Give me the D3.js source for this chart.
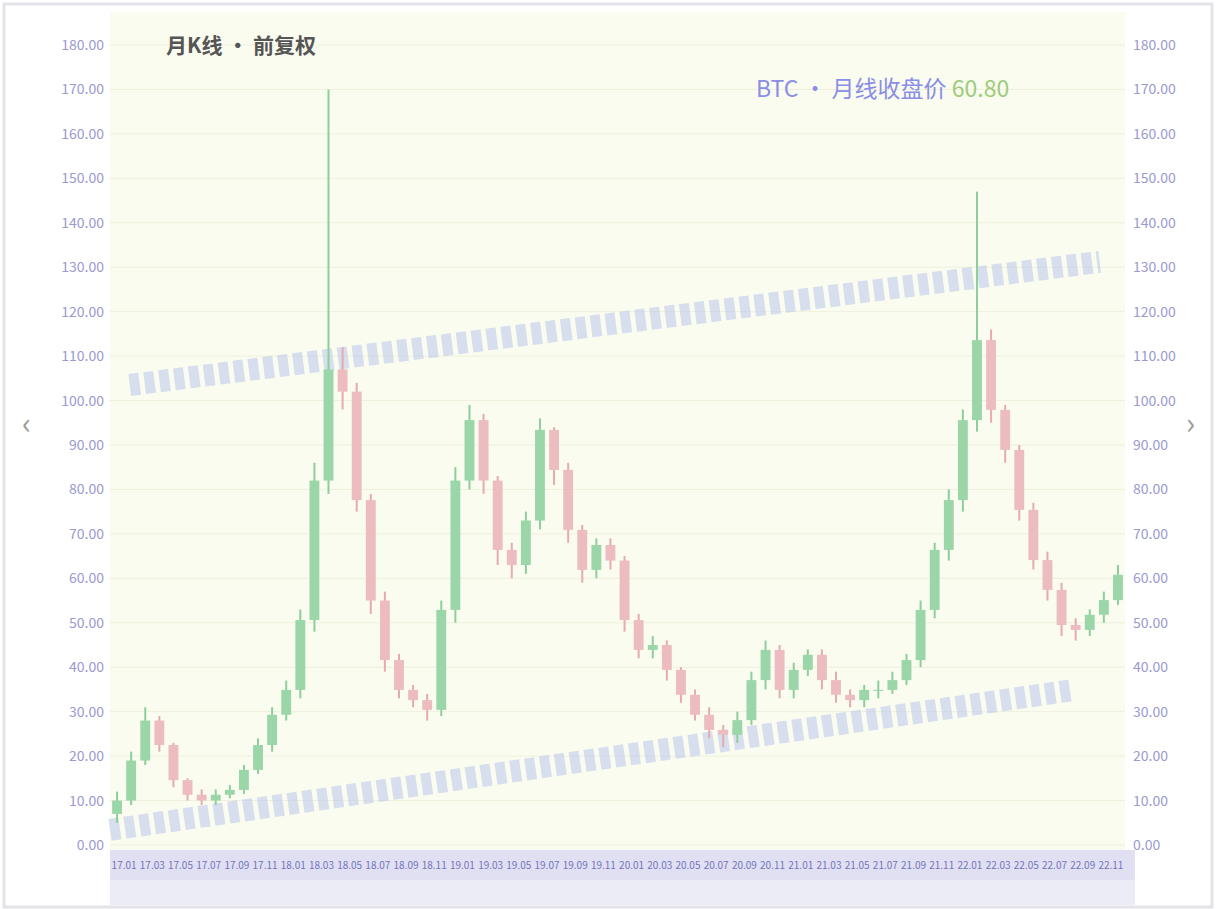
<!doctype html>
<html>
<head>
<meta charset="utf-8">
<style>
	body { margin: 0; background: #fff; font-family: "Noto Sans CJK SC", "Noto Sans", sans-serif; }
	.chart { width: 1216px; height: 909px; }
</style>
</head>
<body>
	<div class="chart"></div>

	<script src="https://d3js.org/d3.v7.min.js"></script>
	<script>
		// 月线数据 (开/高/低/收)
		let months = [];
		for (let y = 2017; y <= 2022; y++) {
			for (let m = 1; m <= 12; m++) months.push(String(y).slice(2) + "." + String(m).padStart(2, "0"));
		}
		let openV = [7, 10, 19, 28, 22.5, 14.6, 11.3, 10, 11.3, 12.4, 16.9, 22.5, 29.3, 34.9, 50.6, 82, 107, 102, 77.6, 55, 41.6, 34.9, 32.6, 30.4, 52.9, 82, 95.6, 82, 66.4, 63, 73, 93.4, 84.4, 70.9, 61.9, 67.5, 64, 50.6, 43.9, 45, 39.4, 33.8, 29.3, 25.9, 24.8, 28.1, 37.1, 43.9, 34.9, 39.4, 42.8, 37.1, 33.8, 32.6, 34.9, 34.9, 37.1, 41.6, 52.9, 66.4, 77.6, 95.6, 113.6, 97.9, 88.9, 75.4, 64.1, 57.4, 49.5, 48.4, 51.8, 55.1];
		let highV = [12, 21, 31, 29, 23, 15, 12.5, 12.5, 13.5, 18, 24, 31, 37, 53, 86, 170, 112, 104, 79, 57, 43, 36, 34, 55, 85, 99, 97, 83, 68, 75, 96, 94, 86, 72, 69, 69, 65, 52, 47, 46, 40, 35, 31, 27, 30, 39, 46, 45, 41, 44, 44, 39, 35, 36, 37, 39, 43, 55, 68, 80, 98, 147, 116, 99, 90, 77, 66, 59, 51, 53, 57, 63];
		let lowV = [5, 9, 18, 21, 13, 10, 9, 9, 10.5, 11.5, 16, 21, 28, 33, 48, 79, 98, 75, 52, 39, 33, 31, 28, 29, 50, 80, 79, 63, 60, 61, 71, 81, 68, 59, 60, 62, 48, 42, 42, 37, 32, 28, 24, 22, 23, 27, 35, 33, 33, 38, 35, 32, 31, 31, 33, 34, 36, 40, 51, 64, 75, 93, 95, 86, 73, 62, 55, 47, 46, 47, 50, 54];
		let closeV = [10, 19, 28, 22.5, 14.6, 11.3, 10, 11.3, 12.4, 16.9, 22.5, 29.3, 34.9, 50.6, 82, 107, 102, 77.6, 55, 41.6, 34.9, 32.6, 30.4, 52.9, 82, 95.6, 82, 66.4, 63, 73, 93.4, 84.4, 70.9, 61.9, 67.5, 64, 50.6, 43.9, 45, 39.4, 33.8, 29.3, 25.9, 24.8, 28.1, 37.1, 43.9, 34.9, 39.4, 42.8, 37.1, 33.8, 32.6, 34.9, 34.9, 37.1, 41.6, 52.9, 66.4, 77.6, 95.6, 113.6, 97.9, 88.9, 75.4, 64.1, 57.4, 49.5, 48.4, 51.8, 55.1, 60.8];
		let yTicks = [0, 10, 20, 30, 40, 50, 60, 70, 80, 90, 100, 110, 120, 130, 140, 150, 160, 170, 180];
		// 通道线 (起点/终点: 序号, 价格)
		let upperLine = [[0.9, 103.5], [69.7, 131.2]];
		let lowerLine = [[-0.5, 3.4], [67.9, 34.9]];

		let width = 1216,
			height = 909,
			plotL = 110,
			plotR = 1125,
			plotT = 12,
			plotB = 850;

		let svg = d3.select(".chart")
			.append("svg")
			.attr("width", width)
			.attr("height", height);

		// 外框
		svg.append("rect").attr("x", 4).attr("y", 4).attr("width", width - 8).attr("height", height - 6)
			.attr("fill", "#fff").attr("stroke", "#e4e4e8").attr("stroke-width", 3);

		// 绘图区背景
		svg.append("rect").attr("x", plotL).attr("y", plotT).attr("width", plotR - plotL).attr("height", plotB - plotT)
			.attr("fill", "#fafcef");

		let scaleX = d3.scaleBand()
			.domain(d3.range(closeV.length))
			.range([plotL, plotR])
			.paddingInner(0.3)
			.paddingOuter(0.15);

		let step = scaleX.step();
		let xi = i => scaleX(0) + scaleX.bandwidth() / 2 + i * step;

		let scaleY = d3.scaleLinear()
			.domain([0, 180])
			.range([845, 45]);

		// 网格
		svg.append("g").selectAll("line").data(yTicks).join("line")
			.attr("x1", plotL).attr("x2", plotR)
			.attr("y1", d => scaleY(d)).attr("y2", d => scaleY(d))
			.attr("stroke", "#eef0dc").attr("stroke-width", 1);

		// 左右坐标轴文字
		let yFmt = d3.format(".2f");
		svg.append("g").selectAll("text").data(yTicks).join("text")
			.attr("x", 104).attr("y", d => scaleY(d) + 5)
			.attr("text-anchor", "end")
			.attr("font-size", 14)
			.attr("fill", "#9a9ad0")
			.text(d => yFmt(d));
		svg.append("g").selectAll("text").data(yTicks).join("text")
			.attr("x", 1133).attr("y", d => scaleY(d) + 5)
			.attr("font-size", 14)
			.attr("fill", "#9a9ad0")
			.text(d => yFmt(d));

		// 通道线
		let lineF = d3.line().x(d => xi(d[0])).y(d => scaleY(d[1]));
		[upperLine, lowerLine].forEach(l => {
			svg.append("path")
				.attr("d", lineF(l))
				.attr("fill", "none")
				.attr("stroke", "#b4c2ee")
				.attr("stroke-opacity", 0.5)
				.attr("stroke-width", 22)
				.attr("stroke-dasharray", "10,5");
		});

		// K线
		let data = closeV.map((c, i) => ({ i: i, o: openV[i], h: highV[i], l: lowV[i], c: c }));
		let candles = svg.append("g").selectAll("g").data(data).join("g");
		candles.append("line")
			.attr("x1", d => xi(d.i)).attr("x2", d => xi(d.i))
			.attr("y1", d => scaleY(d.h)).attr("y2", d => scaleY(d.l))
			.attr("stroke", d => d.c >= d.o ? "#8ccf9c" : "#e6aab0")
			.attr("stroke-width", 2);
		candles.append("rect")
			.attr("x", d => scaleX(d.i))
			.attr("width", scaleX.bandwidth())
			.attr("y", d => scaleY(Math.max(d.o, d.c)))
			.attr("height", d => Math.max(1, Math.abs(scaleY(d.o) - scaleY(d.c))))
			.attr("fill", d => d.c >= d.o ? "#9bd6a8" : "#ecbcc0");

		// 横轴
		svg.append("rect").attr("x", plotL).attr("y", plotB).attr("width", plotR - plotL + 10).attr("height", 30)
			.attr("fill", "#e0e0f2");
		svg.append("rect").attr("x", plotL).attr("y", plotB + 30).attr("width", plotR - plotL + 10).attr("height", 25)
			.attr("fill", "#ececf6");
		svg.append("g").selectAll("text").data(months.filter((m, i) => i % 2 == 0)).join("text")
			.attr("x", (d, k) => xi(k * 2) + step / 2)
			.attr("y", plotB + 19)
			.attr("text-anchor", "middle")
			.attr("font-size", 10)
			.attr("fill", "#7474bc")
			.text(d => d);

		// 标题
		svg.append("text").attr("x", 166).attr("y", 53)
			.attr("font-size", 21).attr("font-weight", "bold").attr("fill", "#555")
			.text("月K线 · 前复权");

		// 图例
		let legend = svg.append("text").attr("x", 756).attr("y", 97).attr("font-size", 23);
		legend.append("tspan").attr("fill", "#8a8ee6").text("BTC · 月线收盘价 ");
		legend.append("tspan").attr("fill", "#9ccc7a").text(closeV[closeV.length - 1].toFixed(2));

		// 翻页箭头
		svg.append("text").attr("x", 22).attr("y", 434).attr("font-size", 30).attr("fill", "#999").text("‹");
		svg.append("text").attr("x", 1186).attr("y", 434).attr("font-size", 30).attr("fill", "#999").text("›");
	</script>
</body>
</html>
